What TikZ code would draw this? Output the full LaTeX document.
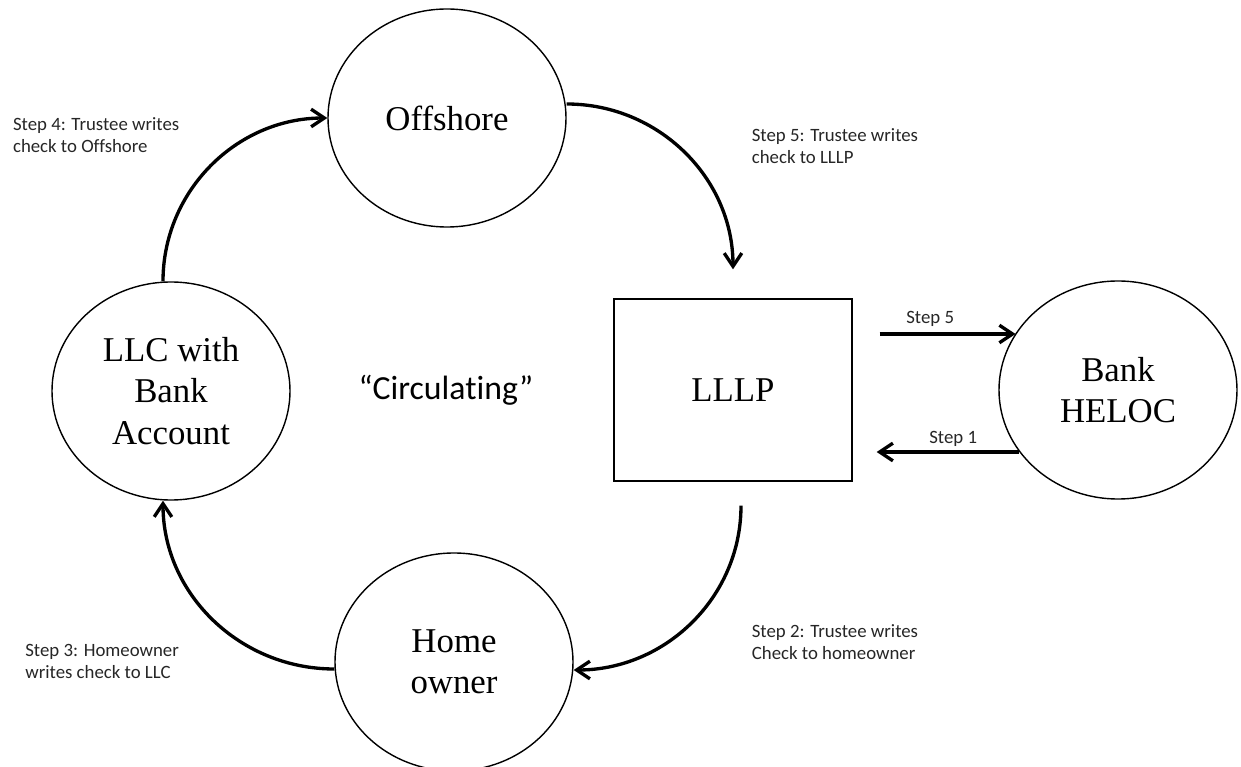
\documentclass[tikz,border=0pt]{standalone}
\usepackage{fontspec}
\setmainfont{Liberation Serif}
\newfontfamily\calibri[Ligatures=NoCommon]{Carlito}
\usetikzlibrary{shapes.geometric,arrows.meta}

\tikzset{
  place/.style={draw, ellipse, line width=0.8pt, minimum width=4.76cm, minimum height=4.36cm,
    inner sep=0pt, align=center, font=\fontsize{19.8}{23.5}\selectfont},
  account/.style={draw, rectangle, line width=0.8pt, minimum width=4.76cm, minimum height=3.64cm,
    inner sep=0pt, font=\fontsize{19.8}{23.5}\selectfont},
  flow/.style={line width=1.9pt, -{Straight Barb[length=7.5pt,width=10pt]}},
  note/.style={anchor=base west, align=left, inner sep=0pt, text=black!85,
    font=\calibri\fontsize{10.7}{12.5}\selectfont}
}

\begin{document}
\begin{tikzpicture}
\useasboundingbox (0,0) rectangle (24.82,-15.34);

%% the four parties
\node[place] (offshore) at (8.94,-2.36) {Offshore};
\node[place] (llc) at (3.42,-7.82) {LLC with\\Bank\\Account};
\node[place] (home) at (9.08,-13.24) {Home\\owner};
\node[place] (bank) at (22.36,-7.80) {Bank\\HELOC};

%% LLLP box
\node[account] (lllp) at (14.66,-7.80) {LLLP};

%% centre text
\node[anchor=base, inner sep=0pt, font=\calibri\fontsize{19.2}{23}\selectfont] (circ) at (8.92,-7.99) {“Circulating”};

%% circuit
\draw[flow] ([xshift=-0.16cm]llc.north) to[out=90,in=180] (offshore.west);
\draw[flow] ([yshift=0.28cm]offshore.east) to[out=0,in=90] ([yshift=0.58cm]lllp.north);
\draw[flow] ([xshift=0.16cm,yshift=-0.48cm]lllp.south) to[out=-90,in=0] ([yshift=-0.16cm]home.east);
\draw[flow] ([yshift=-0.14cm]home.west) to[out=180,in=-90] ([xshift=-0.16cm]llc.south);

%% loan and repayment
\coordinate (st5) at ([xshift=0.54cm,yshift=1.12cm]lllp.east);
\coordinate (st1) at ([xshift=0.48cm,yshift=-1.24cm]lllp.east);
\draw[flow] (st5) -- (st5 -| bank.151);
\draw[flow] (st1 -| bank.212) -- (st1);

%% step labels (base = last line)
\node[note] (s4) at (0.254,-3.054) {Step 4: Trustee writes\\check to Offshore};
\node[note] (s5top) at (15.03,-3.274) {Step 5: Trustee writes\\check to LLLP};
\node[note] (s3) at (0.50,-13.574) {Step 3: Homeowner\\writes check to LLC};
\node[note] (s2) at (15.03,-13.186) {Step 2: Trustee writes\\Check to homeowner};
\node[note] (s5) at (18.12,-6.47) {Step 5};
\node[note] (s1) at (18.58,-8.88) {Step 1};
\end{tikzpicture}
\end{document}
